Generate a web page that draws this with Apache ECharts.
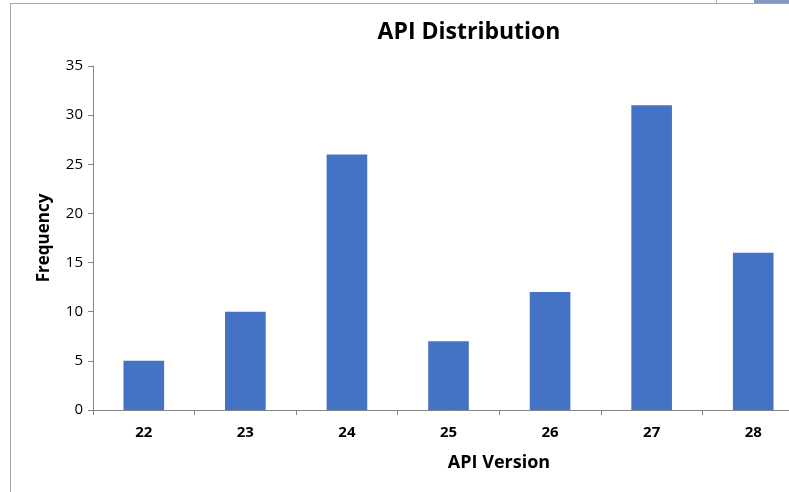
<!DOCTYPE html>
<html>
<head>
<meta charset="utf-8">
<script src="https://cdn.jsdelivr.net/npm/echarts@6/dist/echarts.min.js"></script>
<style>
  html, body { margin: 0; padding: 0; background: #fff; overflow: hidden; }
  /* the plot runs a little past the right edge of the window */
  #chart { width: 820px; height: 492px; }
</style>
</head>
<body>
<div id="chart"></div>
<script>
// API version counts
const versions = ['22', '23', '24', '25', '26', '27', '28'];
const frequency = [5, 10, 26, 7, 12, 31, 16];
const yTicks = { min: 0, max: 35, interval: 5 };

const chart = echarts.init(document.getElementById('chart'), null, { renderer: 'canvas' });
const font = '"Open Sans", "Liberation Sans", sans-serif';

chart.setOption({
  animation: false,
  title: {
    text: 'API Distribution',
    left: 464, top: 16, textAlign: 'center',
    textStyle: { fontFamily: font, fontSize: 23, fontWeight: 'bold', color: '#000' }
  },
  grid: { left: 93, top: 66, width: 711, height: 344 },
  xAxis: {
    type: 'category',
    data: versions,
    axisLine: { lineStyle: { color: '#868686', width: 1 } },
    axisTick: { show: true, length: 5, lineStyle: { color: '#868686' } },
    axisLabel: { fontFamily: font, fontSize: 15, fontWeight: 'bold', color: '#000', margin: 15 }
  },
  yAxis: {
    type: 'value',
    min: yTicks.min, max: yTicks.max, interval: yTicks.interval,
    axisLine: { show: true, lineStyle: { color: '#868686', width: 1 } },
    axisTick: { show: true, length: 5, lineStyle: { color: '#868686' } },
    splitLine: { show: false },
    axisLabel: { fontFamily: font, fontSize: 15, color: '#000', margin: 10 }
  },
  series: [{
    type: 'bar',
    data: frequency,
    barCategoryGap: '60%',
    itemStyle: { color: '#4472C4' }
  }],
  graphic: [
    { type: 'line', shape: { x1: 10.5, y1: 3, x2: 10.5, y2: 492 }, style: { stroke: '#a6a6a6', lineWidth: 1 } },
    { type: 'line', shape: { x1: 10, y1: 3.5, x2: 789, y2: 3.5 }, style: { stroke: '#a6a6a6', lineWidth: 1 } },
    { type: 'rect', shape: { x: 754, y: 0, width: 35, height: 3 }, style: { fill: '#8497c0' } },
    { type: 'line', shape: { x1: 716.5, y1: 0, x2: 716.5, y2: 3 }, style: { stroke: '#9fb1d8', lineWidth: 1 } },
    {
      type: 'text', x: 44, y: 238, rotation: Math.PI / 2,
      style: { text: 'Frequency', font: 'bold 17px ' + font, fill: '#000', textAlign: 'center', textVerticalAlign: 'middle' }
    },
    {
      type: 'text', x: 499, y: 463,
      style: { text: 'API Version', font: 'bold 18px ' + font, fill: '#000', textAlign: 'center', textVerticalAlign: 'middle' }
    }
  ]
});
</script>
</body>
</html>
